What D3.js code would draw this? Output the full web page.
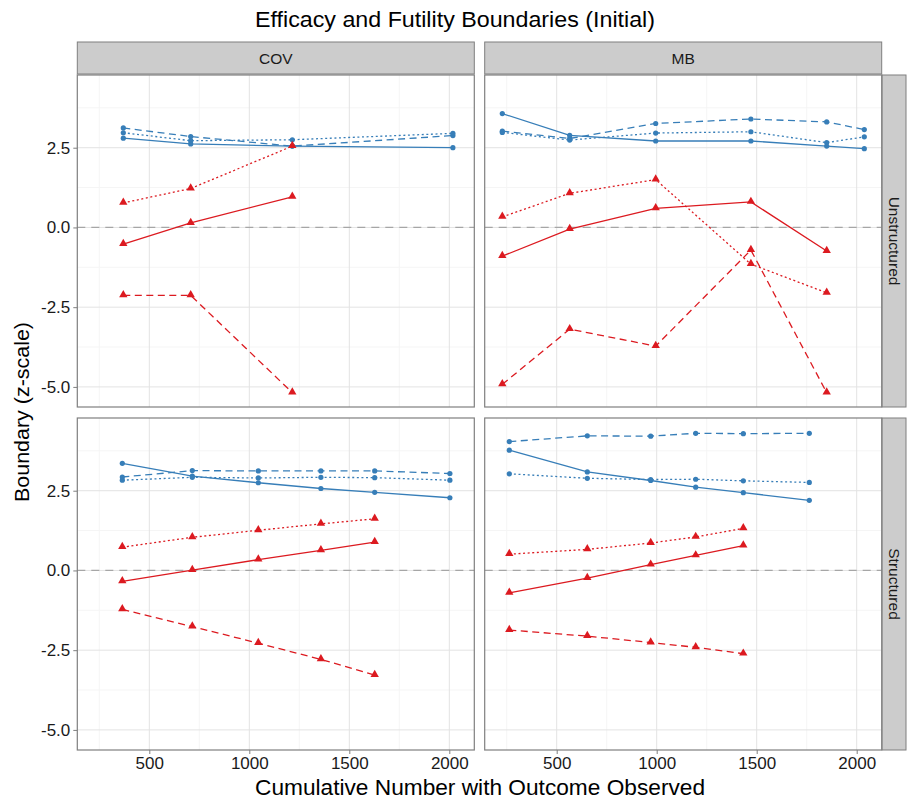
<!DOCTYPE html>
<html>
<head>
<meta charset="utf-8">
<script src="https://cdn.jsdelivr.net/npm/d3@7"></script>
<style>
  body { margin: 0; background: #fff; }
  svg { display: block; font-family: "Liberation Sans", Arial, sans-serif; }
</style>
</head>
<body>
<div id="chart"></div>
<script>
const designs = ["COV", "MB"];
const structures = ["Unstructured", "Structured"];
const lineTypes = ["solid", "dashed", "dotted"];
const xTicks = [500, 1000, 1500, 2000];
const xMinor = [250, 750, 1250, 1750];
const yTicks = [-5, -2.5, 0, 2.5];
const yMinor = [-3.75, -1.25, 1.25, 3.75];

// each boundary array: [solid, dashed, dotted]
const covUnstrX = [370, 707, 1215, 2018];
const covUnstrEfficacy = [
  [2.80, 2.62, 2.55, 2.50],
  [3.12, 2.85, 2.55, 2.88],
  [2.97, 2.72, 2.75, 2.95]
];
const covUnstrFutility = [
  [-0.52, 0.14, 0.96],
  [-2.13, -2.13, -5.18],
  [0.77, 1.22, 2.55]
];

const mbUnstrX = [228, 565, 995, 1471, 1850, 2038];
const mbUnstrEfficacy = [
  [3.57, 2.89, 2.71, 2.71, 2.55, 2.47],
  [3.02, 2.79, 3.26, 3.40, 3.31, 3.07],
  [2.98, 2.74, 2.96, 3.00, 2.66, 2.84]
];
const mbUnstrFutility = [
  [-0.90, -0.05, 0.60, 0.80, -0.74],
  [-4.92, -3.19, -3.72, -0.71, -5.18],
  [0.33, 1.07, 1.50, -1.15, -2.05]
];

const covStrX = [365, 715, 1045, 1358, 1627, 2003];
const covStrEfficacy = [
  [3.36, 2.96, 2.75, 2.57, 2.45, 2.28],
  [2.93, 3.13, 3.12, 3.12, 3.12, 3.04],
  [2.83, 2.92, 2.90, 2.92, 2.91, 2.83]
];
const covStrFutility = [
  [-0.34, 0.01, 0.34, 0.63, 0.89],
  [-1.22, -1.76, -2.28, -2.79, -3.28],
  [0.73, 1.04, 1.26, 1.46, 1.62]
];

const mbStrX = [263, 653, 970, 1195, 1433, 1763];
const mbStrEfficacy = [
  [3.77, 3.09, 2.82, 2.61, 2.44, 2.20],
  [4.04, 4.22, 4.21, 4.30, 4.29, 4.30],
  [3.03, 2.89, 2.85, 2.86, 2.81, 2.76]
];
const mbStrFutility = [
  [-0.70, -0.24, 0.18, 0.47, 0.78],
  [-1.87, -2.06, -2.26, -2.41, -2.61],
  [0.51, 0.66, 0.86, 1.05, 1.32]
];

const panels = [
  { design: "COV", structure: "Unstructured", x: covUnstrX, eff: covUnstrEfficacy, fut: covUnstrFutility },
  { design: "MB", structure: "Unstructured", x: mbUnstrX, eff: mbUnstrEfficacy, fut: mbUnstrFutility },
  { design: "COV", structure: "Structured", x: covStrX, eff: covStrEfficacy, fut: covStrFutility },
  { design: "MB", structure: "Structured", x: mbStrX, eff: mbStrEfficacy, fut: mbStrFutility }
];

const width = 910, height = 799;
const panelLeft = [77.3, 484.7];
const panelTop = [75, 418];
const panelW = 397, panelH = 332;

const blue = "#377eb8";
const red = "#dc1a20";
const dashes = { solid: null, dashed: "7,4.5", dotted: "2,2.6" };

const x = d3.scaleLinear().domain([140, 2125]).range([0, panelW]);
const y = d3.scaleLinear().domain([-5.63, 4.78]).range([panelH, 0]);

const svg = d3.select("#chart").append("svg")
  .attr("width", width)
  .attr("height", height);

svg.append("text")
  .attr("x", 455).attr("y", 27)
  .attr("text-anchor", "middle")
  .attr("font-size", 22.5)
  .attr("textLength", 400)
  .attr("lengthAdjust", "spacingAndGlyphs")
  .attr("fill", "#000")
  .text("Efficacy and Futility Boundaries (Initial)");

// column strips
designs.forEach((d, i) => {
  const g = svg.append("g").attr("transform", `translate(${panelLeft[i]},42)`);
  g.append("rect").attr("width", panelW).attr("height", 32)
    .attr("fill", "#cccccc").attr("stroke", "#7f7f7f").attr("stroke-width", 1);
  g.append("text").attr("x", panelW / 2).attr("y", 21.5)
    .attr("text-anchor", "middle").attr("font-size", 15.5).attr("fill", "#1a1a1a")
    .text(d);
});

// row strips
structures.forEach((s, j) => {
  const g = svg.append("g").attr("transform", `translate(882,${panelTop[j]})`);
  g.append("rect").attr("width", 24).attr("height", panelH)
    .attr("fill", "#cccccc").attr("stroke", "#7f7f7f").attr("stroke-width", 1);
  g.append("text")
    .attr("transform", `translate(6.5,${panelH / 2}) rotate(90)`)
    .attr("text-anchor", "middle").attr("font-size", 15.5).attr("fill", "#1a1a1a")
    .text(s);
});

const line = d3.line().x(d => x(d[0])).y(d => y(d[1]));

panels.forEach(p => {
  const col = designs.indexOf(p.design);
  const row = structures.indexOf(p.structure);
  const g = svg.append("g")
    .attr("transform", `translate(${panelLeft[col]},${panelTop[row]})`);

  g.append("rect").attr("width", panelW).attr("height", panelH).attr("fill", "#fff");

  // minor grid
  g.selectAll(".xminor").data(xMinor).join("line")
    .attr("x1", d => x(d)).attr("x2", d => x(d)).attr("y1", 0).attr("y2", panelH)
    .attr("stroke", "#f5f5f5").attr("stroke-width", 1);
  g.selectAll(".yminor").data(yMinor).join("line")
    .attr("y1", d => y(d)).attr("y2", d => y(d)).attr("x1", 0).attr("x2", panelW)
    .attr("stroke", "#f5f5f5").attr("stroke-width", 1);
  // major grid
  g.selectAll(".xmajor").data(xTicks).join("line")
    .attr("x1", d => x(d)).attr("x2", d => x(d)).attr("y1", 0).attr("y2", panelH)
    .attr("stroke", "#e3e3e3").attr("stroke-width", 1);
  g.selectAll(".ymajor").data(yTicks).join("line")
    .attr("y1", d => y(d)).attr("y2", d => y(d)).attr("x1", 0).attr("x2", panelW)
    .attr("stroke", "#e3e3e3").attr("stroke-width", 1);

  // reference line at zero
  g.append("line")
    .attr("x1", 0).attr("x2", panelW).attr("y1", y(0)).attr("y2", y(0))
    .attr("stroke", "#a6a6a6").attr("stroke-width", 1.3).attr("stroke-dasharray", "8,6");

  const groups = [
    { vals: p.eff, color: blue, shape: "circle" },
    { vals: p.fut, color: red, shape: "triangle" }
  ];

  groups.forEach(grp => {
    grp.vals.forEach((vals, k) => {
      const pts = vals.map((v, i) => [p.x[i], v]);
      g.append("path")
        .attr("d", line(pts))
        .attr("fill", "none")
        .attr("stroke", grp.color)
        .attr("stroke-width", 1.3)
        .attr("stroke-dasharray", dashes[lineTypes[k]]);
      if (grp.shape === "circle") {
        g.selectAll(null).data(pts).join("circle")
          .attr("cx", d => x(d[0])).attr("cy", d => y(d[1]))
          .attr("r", 2.6).attr("fill", grp.color);
      } else {
        g.selectAll(null).data(pts).join("path")
          .attr("d", d3.symbol(d3.symbolTriangle, 30))
          .attr("transform", d => `translate(${x(d[0])},${y(d[1]) - 0.5})`)
          .attr("fill", grp.color);
      }
    });
  });

  g.append("rect").attr("width", panelW).attr("height", panelH)
    .attr("fill", "none").attr("stroke", "#7f7f7f").attr("stroke-width", 1.2);
});

// axes
structures.forEach((s, j) => {
  const ax = svg.append("g")
    .attr("transform", `translate(${panelLeft[0]},${panelTop[j]})`)
    .call(d3.axisLeft(y).tickValues(yTicks).tickFormat(d => d.toFixed(1)).tickSize(4).tickPadding(3));
  ax.select(".domain").remove();
  ax.selectAll(".tick line").attr("stroke", "#7f7f7f");
  ax.attr("font-size", 17).attr("font-family", "'Liberation Sans', Arial, sans-serif");
  ax.selectAll("text").attr("fill", "#1a1a1a");
});

designs.forEach((d, i) => {
  const ax = svg.append("g")
    .attr("transform", `translate(${panelLeft[i]},${panelTop[1] + panelH})`)
    .call(d3.axisBottom(x).tickValues(xTicks).tickFormat(d3.format("d")).tickSize(4).tickPadding(3));
  ax.select(".domain").remove();
  ax.selectAll(".tick line").attr("stroke", "#7f7f7f");
  ax.attr("font-size", 17).attr("font-family", "'Liberation Sans', Arial, sans-serif");
  ax.selectAll("text").attr("fill", "#1a1a1a");
});

svg.append("text")
  .attr("x", 480).attr("y", 795)
  .attr("text-anchor", "middle")
  .attr("font-size", 21.5)
  .attr("textLength", 450)
  .attr("lengthAdjust", "spacingAndGlyphs")
  .text("Cumulative Number with Outcome Observed");

svg.append("text")
  .attr("transform", `translate(29,412) rotate(-90)`)
  .attr("text-anchor", "middle")
  .attr("font-size", 21)
  .attr("textLength", 180)
  .attr("lengthAdjust", "spacingAndGlyphs")
  .text("Boundary (z-scale)");
</script>
</body>
</html>
